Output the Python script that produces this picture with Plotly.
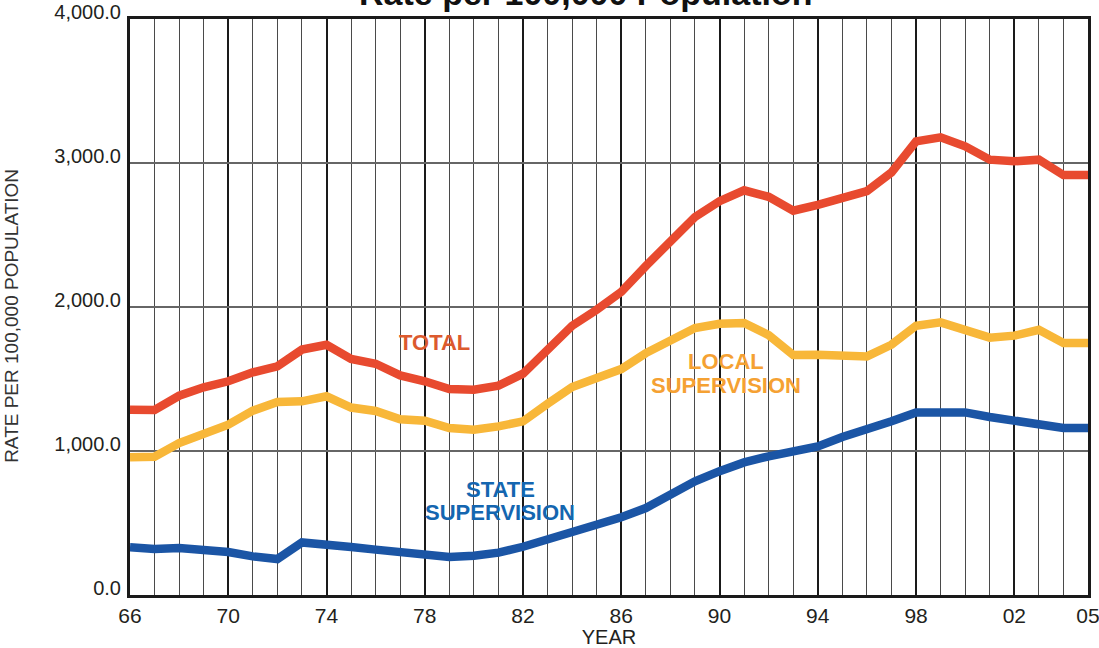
import plotly.graph_objects as go

years = list(range(1966, 2006))

total = [1287, 1285, 1384, 1442, 1484, 1546, 1588, 1704, 1738, 1639,
         1606, 1525, 1484, 1431, 1426, 1454, 1537, 1703, 1870, 1981,
         2105, 2285, 2465, 2625, 2735, 2810, 2765, 2669, 2710, 2759,
         2804, 2935, 3150, 3178, 3116, 3023, 3012, 3023, 2916, 2916]

local_sup = [956, 960, 1055, 1118, 1183, 1280, 1340, 1345, 1380, 1302,
             1278, 1220, 1210, 1160, 1148, 1171, 1206, 1328, 1444, 1507,
             1569, 1680, 1773, 1854, 1884, 1889, 1805, 1667, 1669, 1662,
             1657, 1738, 1870, 1893, 1842, 1787, 1801, 1842, 1750, 1750]

state_sup = [331, 319, 326, 319, 298, 268, 250, 365, 356, 333,
             315, 298, 268, 264, 273, 294, 335, 384, 432, 488,
             540, 604, 697, 789, 860, 921, 963, 997, 1032, 1097,
             1148, 1206, 1268, 1275, 1268, 1236, 1206, 1183, 1160, 1160]

x_tickvals = [1966, 1970, 1974, 1978, 1982, 1986, 1990, 1994, 1998, 2002, 2005]
x_ticktext = ["66", "70", "74", "78", "82", "86", "90", "94", "98", "02", "05"]
y_tickvals = [0, 1000, 2000, 3000, 4000]
y_ticktext = ["0.0", "1,000.0", "2,000.0", "3,000.0", "4,000.0"]

title_text = "Rate per 100,000 Population"
x_title = "YEAR"
y_title = "RATE PER 100,000 POPULATION"

series = [
    ("Total", total, "#E84A2F"),
    ("Local Supervision", local_sup, "#F8B739"),
    ("State Supervision", state_sup, "#1B55A5"),
]

# in-chart labels: (text, x year, y value, color)
labels = [
    ("TOTAL", 1978.38, 1752, "#DC5A2E"),
    ("LOCAL", 1990.25, 1620, "#F5A133"),
    ("SUPERVISION", 1990.25, 1454, "#F5A133"),
    ("STATE", 1981.07, 730, "#1466B0"),
    ("SUPERVISION", 1981.07, 570, "#1466B0"),
]

fig = go.Figure()
for name, vals, color in series:
    fig.add_trace(go.Scatter(x=years, y=vals, mode="lines", name=name,
                             line=dict(color=color, width=8.5),
                             hoverinfo="skip"))

for text, xv, yv, color in labels:
    fig.add_annotation(x=xv, y=yv, xref="x", yref="y", text="<b>%s</b>" % text,
                       showarrow=False, xanchor="center", yanchor="middle",
                       font=dict(family="Liberation Sans, Arial", size=22, color=color))

fig.add_annotation(x=0.476, y=1.045, xref="paper", yref="paper",
                   text="<b>%s</b>" % title_text, showarrow=False,
                   xanchor="center", yanchor="middle",
                   font=dict(family="Liberation Sans, Arial", size=34, color="#111"))

fig.add_annotation(x=-0.124, y=0.485, xref="paper", yref="paper",
                   text=y_title, showarrow=False, textangle=-90,
                   xanchor="center", yanchor="middle",
                   font=dict(family="Liberation Sans, Arial", size=19, color="#333"))

fig.update_layout(
    width=1099, height=648,
    margin=dict(l=130, r=11, t=19, b=53, autoexpand=False),
    paper_bgcolor="white", plot_bgcolor="white",
    showlegend=False,
    font=dict(family="Liberation Sans, Arial", color="#231F20"),
    xaxis=dict(
        range=[1966, 2005], tickvals=x_tickvals, ticktext=x_ticktext,
        showgrid=True, gridcolor="#1a1a1a", gridwidth=2,
        minor=dict(dtick=1, tick0=1966, showgrid=True, gridcolor="#4a4a4a", gridwidth=1),
        showline=True, linecolor="#1a1a1a", linewidth=3, mirror=True,
        ticks="", tickfont=dict(size=21, color="#231F20"),
        ticklabeloverflow="allow", ticklabelstandoff=0,
        title=dict(text=x_title, font=dict(size=20, color="#231F20"), standoff=2),
        zeroline=False, fixedrange=True, automargin=False,
    ),
    yaxis=dict(
        range=[0, 4000], tickvals=y_tickvals, ticktext=y_ticktext,
        showgrid=True, gridcolor="#666", gridwidth=1.5,
        showline=True, linecolor="#1a1a1a", linewidth=3, mirror=True,
        ticks="", tickfont=dict(size=20, color="#231F20"),
        ticklabelshift=-7, ticklabelstandoff=2, ticklabeloverflow="allow",
        zeroline=False, fixedrange=True, automargin=False,
    ),
)

fig.write_html("out.html", config={"displayModeBar": False},
               post_script="document.body.style.margin='0';document.body.style.overflow='hidden';")
